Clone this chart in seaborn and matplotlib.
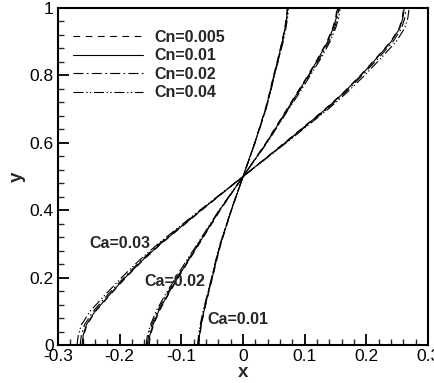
import numpy as np
import pandas as pd
import matplotlib
matplotlib.use("Agg")
import matplotlib.pyplot as plt
from matplotlib.ticker import MultipleLocator, FuncFormatter
import seaborn as sns

# interface position y (shared by all curves)
y_vals = [0, 0.01, 0.03, 0.06, 0.1, 0.15, 0.2, 0.25, 0.3, 0.4, 0.5,
          0.6, 0.7, 0.75, 0.8, 0.85, 0.9, 0.94, 0.97, 0.99, 1.0]

cn_labels = ["Cn=0.005", "Cn=0.01", "Cn=0.02", "Cn=0.04"]

# Ca = 0.03
ca03_cn0005 = [-0.260, -0.2595, -0.258, -0.253, -0.239, -0.215, -0.190, -0.163, -0.133, -0.067, 0,
               0.067, 0.133, 0.163, 0.190, 0.215, 0.239, 0.253, 0.258, 0.2595, 0.260]
ca03_cn001 = [-0.261, -0.2605, -0.259, -0.254, -0.240, -0.216, -0.191, -0.164, -0.134, -0.068, 0,
              0.068, 0.134, 0.164, 0.191, 0.216, 0.240, 0.254, 0.259, 0.2605, 0.261]
ca03_cn002 = [-0.264, -0.2635, -0.262, -0.257, -0.243, -0.219, -0.193, -0.166, -0.136, -0.069, 0,
              0.069, 0.136, 0.166, 0.193, 0.219, 0.243, 0.257, 0.262, 0.2635, 0.264]
ca03_cn004 = [-0.269, -0.2685, -0.267, -0.262, -0.248, -0.223, -0.197, -0.169, -0.138, -0.070, 0,
              0.070, 0.138, 0.169, 0.197, 0.223, 0.248, 0.262, 0.267, 0.2685, 0.269]

# Ca = 0.02
ca02_cn0005 = [-0.152, -0.1515, -0.150, -0.145, -0.136, -0.121, -0.105, -0.088, -0.071, -0.037, 0,
               0.037, 0.071, 0.088, 0.105, 0.121, 0.136, 0.145, 0.150, 0.1515, 0.152]
ca02_cn001 = [-0.153, -0.1525, -0.151, -0.146, -0.137, -0.122, -0.106, -0.089, -0.072, -0.038, 0,
              0.038, 0.072, 0.089, 0.106, 0.122, 0.137, 0.146, 0.151, 0.1525, 0.153]
ca02_cn002 = [-0.155, -0.1545, -0.153, -0.148, -0.139, -0.124, -0.107, -0.090, -0.073, -0.038, 0,
              0.038, 0.073, 0.090, 0.107, 0.124, 0.139, 0.148, 0.153, 0.1545, 0.155]
ca02_cn004 = [-0.157, -0.1565, -0.155, -0.150, -0.141, -0.126, -0.109, -0.092, -0.074, -0.039, 0,
              0.039, 0.074, 0.092, 0.109, 0.126, 0.141, 0.150, 0.155, 0.1565, 0.157]

# Ca = 0.01
ca01_cn0005 = [-0.0715, -0.0713, -0.070, -0.0675, -0.063, -0.0565, -0.0495, -0.043, -0.036, -0.0188, 0,
               0.0188, 0.036, 0.043, 0.0495, 0.0565, 0.063, 0.0675, 0.070, 0.0713, 0.0715]
ca01_cn001 = [-0.072, -0.0718, -0.0705, -0.068, -0.0635, -0.057, -0.050, -0.0435, -0.0365, -0.019, 0,
              0.019, 0.0365, 0.0435, 0.050, 0.057, 0.0635, 0.068, 0.0705, 0.0718, 0.072]
ca01_cn002 = [-0.0725, -0.0723, -0.071, -0.0685, -0.064, -0.0575, -0.0505, -0.044, -0.037, -0.0192, 0,
              0.0192, 0.037, 0.044, 0.0505, 0.0575, 0.064, 0.0685, 0.071, 0.0723, 0.0725]
ca01_cn004 = [-0.0735, -0.0733, -0.072, -0.0695, -0.065, -0.058, -0.051, -0.0445, -0.0372, -0.0195, 0,
              0.0195, 0.0372, 0.0445, 0.051, 0.058, 0.065, 0.0695, 0.072, 0.0733, 0.0735]

curves = {
    "Ca=0.03": [ca03_cn0005, ca03_cn001, ca03_cn002, ca03_cn004],
    "Ca=0.02": [ca02_cn0005, ca02_cn001, ca02_cn002, ca02_cn004],
    "Ca=0.01": [ca01_cn0005, ca01_cn001, ca01_cn002, ca01_cn004],
}

rows = []
for ca, series in curves.items():
    for cn, xs in zip(cn_labels, series):
        for xv, yv in zip(xs, y_vals):
            rows.append({"Ca": ca, "Cn": cn, "x": xv, "y": yv})
df = pd.DataFrame(rows)

sns.set_style("ticks")
plt.rcParams["font.family"] = ["Liberation Sans", "DejaVu Sans"]

dash_map = {
    "Cn=0.005": (6, 5),
    "Cn=0.01": "",
    "Cn=0.02": (9, 3, 1.5, 3),
    "Cn=0.04": (9, 2.5, 1.2, 2, 1.2, 2.5),
}

fig = plt.figure(figsize=(4.35, 3.83), dpi=100)
ax = fig.add_axes([0.1333, 0.0992, 0.851, 0.880])

sns.lineplot(data=df, x="x", y="y", style="Cn", units="Ca", estimator=None,
             sort=False, style_order=cn_labels, dashes=dash_map,
             color="black", lw=0.8, ax=ax)

ax.set_xlim(-0.3, 0.3)
ax.set_ylim(0, 1)
ax.xaxis.set_major_locator(MultipleLocator(0.1))
ax.xaxis.set_minor_locator(MultipleLocator(0.02))
ax.yaxis.set_major_locator(MultipleLocator(0.2))
ax.yaxis.set_minor_locator(MultipleLocator(0.04))
fmt = FuncFormatter(lambda v, p: "%g" % round(v, 3))
ax.xaxis.set_major_formatter(fmt)
ax.yaxis.set_major_formatter(fmt)
ax.tick_params(which="major", direction="in", length=8, width=1.3, labelsize=12.5, pad=3, colors="black")
ax.tick_params(which="minor", direction="in", length=4.5, width=1.0)
for s in ax.spines.values():
    s.set_linewidth(1.5)
    s.set_color("black")

ax.set_xlabel("x", fontsize=13.5, fontweight="bold", labelpad=0)
ax.set_ylabel("y", fontsize=13.5, fontweight="bold", labelpad=3)

# Ca labels
ax.text(-0.199, 0.30, "Ca=0.03", fontsize=11.5, fontweight="bold", ha="center", va="center")
ax.text(-0.110, 0.187, "Ca=0.02", fontsize=11.5, fontweight="bold", ha="center", va="center")
ax.text(-0.008, 0.077, "Ca=0.01", fontsize=11.5, fontweight="bold", ha="center", va="center")

handles, labels = ax.get_legend_handles_labels()
for h in handles:
    h.set_linewidth(0.8)
    h.set_color("black")
leg = ax.legend(handles, labels, loc="upper left", bbox_to_anchor=(0.04, 0.935),
                frameon=False, handlelength=4.4, handletextpad=0.7, borderpad=0,
                borderaxespad=0, labelspacing=0.22, prop={"weight": "bold", "size": 11.5})

fig.savefig("out.png", dpi=100)
